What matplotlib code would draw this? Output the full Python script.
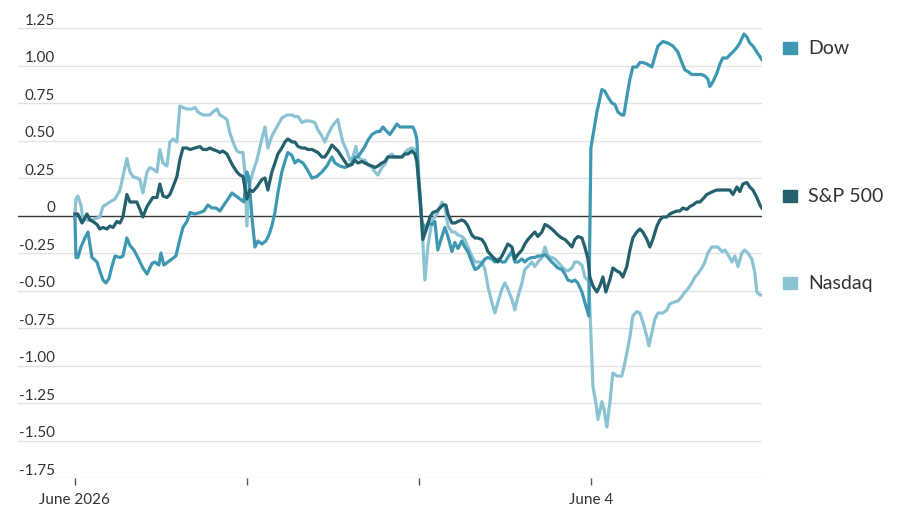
import matplotlib
matplotlib.use("Agg")
import matplotlib.pyplot as plt
from matplotlib.patches import Rectangle
from matplotlib.transforms import blended_transform_factory

plt.rcParams['font.family'] = ['Lato', 'DejaVu Sans']

# time in trading days from the June 1 open, value in % change
dow_t = [0.000, 0.006, 0.017, 0.035, 0.058, 0.076, 0.099, 0.128, 0.145, 0.163, 0.180, 0.198, 0.215, 0.233,
         0.262, 0.279, 0.302, 0.320, 0.343, 0.366, 0.395, 0.419, 0.448, 0.465, 0.488, 0.500, 0.517, 0.541,
         0.564, 0.587, 0.610, 0.628, 0.651, 0.669, 0.698, 0.727, 0.750, 0.773, 0.797, 0.820, 0.843, 0.866,
         0.890, 0.913, 0.936, 0.959, 0.983,
         1.000, 1.012, 1.029, 1.047, 1.064, 1.087, 1.110, 1.128, 1.145, 1.163, 1.180, 1.203, 1.221, 1.238,
         1.262, 1.279, 1.297, 1.326, 1.349, 1.378, 1.407, 1.436, 1.465, 1.494, 1.512, 1.541, 1.570, 1.587,
         1.610, 1.628, 1.645, 1.669, 1.686, 1.703, 1.727, 1.756, 1.773, 1.791, 1.814, 1.831, 1.849, 1.872,
         1.890, 1.913, 1.936, 1.965, 1.977, 1.988,
         2.000, 2.017, 2.035, 2.052, 2.076, 2.093, 2.110, 2.134, 2.151, 2.169, 2.192, 2.209, 2.227, 2.250,
         2.267, 2.285, 2.308, 2.326, 2.343, 2.366, 2.384, 2.401, 2.424, 2.442, 2.459, 2.483, 2.500, 2.517,
         2.541, 2.558, 2.576, 2.599, 2.616, 2.634, 2.657, 2.674, 2.692, 2.715, 2.733, 2.750, 2.773, 2.791,
         2.808, 2.831, 2.849, 2.866, 2.890, 2.907, 2.924, 2.948, 2.965, 2.983, 2.988,
         3.000, 3.035, 3.064, 3.081, 3.099, 3.122, 3.140, 3.157, 3.180, 3.192, 3.209, 3.227, 3.244, 3.267,
         3.285, 3.302, 3.326, 3.355, 3.372, 3.390, 3.419, 3.448, 3.477, 3.506, 3.529, 3.547, 3.564, 3.587,
         3.616, 3.645, 3.663, 3.680, 3.692, 3.709, 3.733, 3.750, 3.767, 3.791, 3.808, 3.826, 3.849, 3.866,
         3.890, 3.907, 3.924, 3.942, 3.965, 3.994]
dow = [0.00, -0.28, -0.28, -0.21, -0.15, -0.11, -0.28, -0.31, -0.37, -0.43, -0.45, -0.42, -0.34, -0.27,
       -0.28, -0.27, -0.15, -0.20, -0.23, -0.28, -0.35, -0.39, -0.32, -0.31, -0.33, -0.25, -0.33, -0.31,
       -0.29, -0.27, -0.16, -0.08, -0.04, 0.02, 0.01, 0.02, 0.03, 0.07, 0.05, 0.05, 0.03, 0.07,
       0.11, 0.15, 0.13, 0.11, 0.09,
       0.29, 0.25, -0.01, -0.21, -0.17, -0.19, -0.17, -0.13, -0.07, 0.02, 0.15, 0.29, 0.36, 0.42,
       0.40, 0.35, 0.37, 0.35, 0.31, 0.25, 0.26, 0.29, 0.33, 0.39, 0.35, 0.33, 0.32, 0.33,
       0.35, 0.39, 0.39, 0.43, 0.46, 0.50, 0.54, 0.56, 0.56, 0.59, 0.56, 0.54, 0.57, 0.61,
       0.59, 0.59, 0.59, 0.59, 0.56, 0.51,
       0.24, -0.04, -0.09, -0.05, -0.06, -0.04, -0.23, -0.14, -0.08, -0.14, -0.24, -0.18, -0.22, -0.17,
       -0.21, -0.24, -0.31, -0.36, -0.35, -0.32, -0.29, -0.28, -0.29, -0.31, -0.29, -0.31, -0.31, -0.28,
       -0.24, -0.31, -0.31, -0.29, -0.31, -0.29, -0.28, -0.28, -0.27, -0.27, -0.26, -0.28, -0.31, -0.33,
       -0.35, -0.36, -0.39, -0.43, -0.44, -0.43, -0.45, -0.51, -0.58, -0.65, -0.67,
       0.45, 0.69, 0.84, 0.83, 0.79, 0.75, 0.74, 0.69, 0.67, 0.67, 0.79, 0.91, 0.99, 0.99,
       1.02, 1.02, 1.01, 0.99, 1.06, 1.13, 1.16, 1.15, 1.13, 1.09, 1.02, 0.97, 0.96, 0.94,
       0.94, 0.94, 0.93, 0.91, 0.86, 0.89, 0.95, 1.01, 1.05, 1.05, 1.07, 1.09, 1.12, 1.15,
       1.21, 1.19, 1.15, 1.13, 1.09, 1.04]

sp_t = [0.000, 0.017, 0.041, 0.070, 0.087, 0.105, 0.128, 0.145, 0.163, 0.186, 0.203, 0.221, 0.244, 0.262,
        0.279, 0.302, 0.320, 0.337, 0.360, 0.378, 0.395, 0.419, 0.436, 0.453, 0.477, 0.494, 0.512, 0.535,
        0.552, 0.570, 0.593, 0.610, 0.628, 0.651, 0.669, 0.698, 0.727, 0.744, 0.767, 0.785, 0.802, 0.826,
        0.843, 0.860, 0.884, 0.901, 0.919, 0.942, 0.959, 0.977,
        1.000, 1.017, 1.035, 1.058, 1.087, 1.105, 1.122, 1.145, 1.163, 1.180, 1.203, 1.221, 1.238, 1.262,
        1.279, 1.297, 1.320, 1.337, 1.355, 1.378, 1.395, 1.413, 1.436, 1.453, 1.471, 1.494, 1.512, 1.529,
        1.552, 1.570, 1.587, 1.610, 1.628, 1.645, 1.669, 1.686, 1.703, 1.727, 1.744, 1.762, 1.785, 1.802,
        1.820, 1.843, 1.860, 1.878, 1.901, 1.919, 1.936, 1.959, 1.977, 1.988,
        2.006, 2.023, 2.047, 2.064, 2.081, 2.105, 2.122, 2.140, 2.157, 2.169, 2.192, 2.209, 2.227, 2.250,
        2.267, 2.285, 2.308, 2.326, 2.343, 2.366, 2.384, 2.401, 2.424, 2.442, 2.459, 2.483, 2.500, 2.517,
        2.541, 2.558, 2.576, 2.599, 2.616, 2.634, 2.657, 2.674, 2.692, 2.715, 2.733, 2.750, 2.773, 2.791,
        2.808, 2.831, 2.849, 2.866, 2.890, 2.907, 2.924, 2.948, 2.965, 2.983,
        2.994, 3.012, 3.035, 3.052, 3.070, 3.087, 3.110, 3.128, 3.151, 3.169, 3.186, 3.209, 3.227, 3.244,
        3.267, 3.285, 3.302, 3.326, 3.343, 3.360, 3.384, 3.401, 3.419, 3.442, 3.459, 3.477, 3.500, 3.517,
        3.535, 3.558, 3.576, 3.593, 3.616, 3.634, 3.651, 3.674, 3.692, 3.709, 3.733, 3.750, 3.767, 3.791,
        3.808, 3.826, 3.849, 3.866, 3.884, 3.907, 3.924, 3.942, 3.965, 3.983, 3.994]
sp500 = [0.01, 0.01, -0.05, 0.01, -0.03, -0.04, -0.06, -0.09, -0.08, -0.09, -0.07, -0.08, -0.04, -0.05,
         -0.01, 0.14, 0.09, 0.09, 0.09, 0.04, -0.01, 0.06, 0.09, 0.12, 0.12, 0.21, 0.13, 0.12,
         0.14, 0.19, 0.26, 0.37, 0.45, 0.45, 0.44, 0.45, 0.46, 0.44, 0.44, 0.45, 0.44, 0.43,
         0.42, 0.43, 0.41, 0.37, 0.33, 0.29, 0.27, 0.26,
         0.11, 0.17, 0.16, 0.19, 0.24, 0.25, 0.17, 0.29, 0.35, 0.41, 0.45, 0.49, 0.51, 0.49,
         0.49, 0.46, 0.45, 0.45, 0.44, 0.44, 0.43, 0.42, 0.39, 0.39, 0.42, 0.47, 0.45, 0.43,
         0.39, 0.36, 0.33, 0.34, 0.37, 0.35, 0.36, 0.35, 0.34, 0.33, 0.32, 0.33, 0.35, 0.36,
         0.39, 0.39, 0.39, 0.39, 0.39, 0.41, 0.41, 0.43, 0.41, 0.36,
         0.13, -0.16, -0.08, -0.01, 0.02, 0.03, 0.05, 0.07, 0.07, 0.01, -0.05, -0.05, -0.04, -0.03,
         -0.04, -0.07, -0.13, -0.15, -0.15, -0.16, -0.19, -0.24, -0.27, -0.29, -0.31, -0.27, -0.23, -0.19,
         -0.21, -0.29, -0.26, -0.23, -0.19, -0.16, -0.13, -0.11, -0.14, -0.11, -0.06, -0.07, -0.09, -0.11,
         -0.13, -0.15, -0.16, -0.18, -0.21, -0.16, -0.14, -0.15, -0.21, -0.29,
         -0.41, -0.47, -0.51, -0.47, -0.41, -0.51, -0.43, -0.35, -0.37, -0.38, -0.41, -0.34, -0.23, -0.15,
         -0.11, -0.09, -0.11, -0.16, -0.21, -0.16, -0.07, -0.03, -0.01, -0.01, 0.01, 0.02, 0.03, 0.03,
         0.05, 0.04, 0.06, 0.07, 0.09, 0.09, 0.11, 0.14, 0.15, 0.16, 0.17, 0.17, 0.17, 0.17,
         0.17, 0.14, 0.19, 0.16, 0.21, 0.22, 0.19, 0.17, 0.12, 0.07, 0.05]

nasdaq_t = [0.000, 0.006, 0.017, 0.035, 0.047, 0.087, 0.122, 0.145, 0.163, 0.203, 0.233, 0.262, 0.279, 0.302,
            0.320, 0.337, 0.360, 0.378, 0.395, 0.419, 0.436, 0.453, 0.477, 0.494, 0.512, 0.535, 0.552, 0.570,
            0.593, 0.610, 0.628, 0.651, 0.680, 0.698, 0.715, 0.744, 0.767, 0.785, 0.802, 0.826, 0.843, 0.860,
            0.884, 0.901, 0.919, 0.942, 0.959, 0.977, 0.988,
            1.000, 1.012, 1.035, 1.058, 1.087, 1.105, 1.122, 1.145, 1.174, 1.203, 1.233, 1.262, 1.279, 1.297,
            1.320, 1.337, 1.366, 1.395, 1.413, 1.436, 1.453, 1.471, 1.494, 1.512, 1.529, 1.541, 1.558, 1.581,
            1.599, 1.616, 1.634, 1.645, 1.669, 1.686, 1.703, 1.727, 1.744, 1.762, 1.785, 1.802, 1.820, 1.843,
            1.860, 1.878, 1.901, 1.919, 1.936, 1.959, 1.977, 1.988,
            2.000, 2.017, 2.035, 2.052, 2.076, 2.093, 2.110, 2.134, 2.151, 2.169, 2.192, 2.209, 2.227, 2.250,
            2.267, 2.285, 2.308, 2.326, 2.343, 2.366, 2.384, 2.401, 2.424, 2.442, 2.459, 2.483, 2.500, 2.517,
            2.541, 2.558, 2.576, 2.599, 2.616, 2.634, 2.657, 2.674, 2.692, 2.715, 2.733, 2.750, 2.773, 2.791,
            2.808, 2.831, 2.849, 2.866, 2.890, 2.907, 2.924, 2.948, 2.965, 2.988,
            3.012, 3.029, 3.041, 3.064, 3.076, 3.093, 3.110, 3.128, 3.151, 3.180, 3.198, 3.227, 3.244, 3.267,
            3.285, 3.302, 3.326, 3.337, 3.355, 3.372, 3.390, 3.419, 3.442, 3.459, 3.477, 3.506, 3.529, 3.547,
            3.564, 3.587, 3.605, 3.622, 3.645, 3.663, 3.680, 3.703, 3.721, 3.738, 3.762, 3.779, 3.797, 3.820,
            3.837, 3.855, 3.878, 3.895, 3.913, 3.936, 3.953, 3.965, 3.983, 3.994]
nasdaq = [0.01, 0.11, 0.13, 0.07, -0.03, -0.03, -0.02, -0.01, 0.06, 0.09, 0.11, 0.17, 0.26, 0.38,
          0.29, 0.26, 0.25, 0.24, 0.15, 0.29, 0.32, 0.31, 0.29, 0.44, 0.35, 0.33, 0.49, 0.51,
          0.49, 0.73, 0.72, 0.71, 0.71, 0.72, 0.69, 0.67, 0.67, 0.67, 0.69, 0.71, 0.67, 0.66,
          0.64, 0.55, 0.49, 0.43, 0.42, 0.42, 0.29,
          -0.07, 0.19, 0.29, 0.37, 0.51, 0.59, 0.45, 0.53, 0.59, 0.65, 0.67, 0.67, 0.66, 0.66,
          0.62, 0.63, 0.63, 0.62, 0.57, 0.53, 0.49, 0.54, 0.59, 0.62, 0.64, 0.57, 0.49, 0.43,
          0.37, 0.39, 0.46, 0.39, 0.37, 0.37, 0.34, 0.32, 0.29, 0.27, 0.32, 0.34, 0.39, 0.41,
          0.39, 0.39, 0.39, 0.42, 0.44, 0.45, 0.44, 0.39,
          0.17, -0.05, -0.43, -0.21, -0.03, -0.01, 0.02, 0.09, 0.06, -0.07, -0.11, -0.11, -0.13, -0.14,
          -0.16, -0.21, -0.27, -0.31, -0.31, -0.31, -0.36, -0.47, -0.58, -0.65, -0.58, -0.49, -0.45, -0.49,
          -0.56, -0.63, -0.54, -0.45, -0.36, -0.34, -0.31, -0.34, -0.31, -0.28, -0.21, -0.27, -0.28, -0.29,
          -0.31, -0.34, -0.36, -0.37, -0.35, -0.31, -0.31, -0.33, -0.41, -0.44,
          -1.14, -1.25, -1.36, -1.24, -1.29, -1.41, -1.25, -1.05, -1.07, -1.07, -0.98, -0.81, -0.67, -0.64,
          -0.65, -0.71, -0.81, -0.87, -0.78, -0.69, -0.65, -0.65, -0.63, -0.59, -0.58, -0.57, -0.54, -0.51,
          -0.49, -0.45, -0.41, -0.39, -0.35, -0.31, -0.25, -0.21, -0.21, -0.21, -0.24, -0.23, -0.26, -0.31,
          -0.27, -0.34, -0.25, -0.23, -0.25, -0.29, -0.38, -0.51, -0.53, -0.53]

series_names = ['Dow', 'S&P 500', 'Nasdaq']
series_colors = ['#3f98b3', '#24606e', '#8cc3d4']

y_ticks = [1.25, 1.00, 0.75, 0.50, 0.25, 0, -0.25, -0.50, -0.75, -1.00, -1.25, -1.50, -1.75]
x_ticks = [0, 1, 2, 3]
x_tick_labels = ['June 2026', '', '', 'June 4']

text_color = '#333333'

fig = plt.figure(figsize=(9, 5.1), dpi=100)
ax = fig.add_axes([18 / 900, 1 - 479 / 510, 744 / 900, 450 / 510])
ax.set_xlim(-0.331, 3.995)
ax.set_ylim(-1.75, 1.25)

for s in ax.spines.values():
    s.set_visible(False)

# grid lines, zero line in dark
for v in y_ticks:
    if v == 0:
        ax.axhline(v, color='#3a3a3a', lw=1.0, zorder=3)
    else:
        ax.axhline(v, color='#e3e3e3', lw=1.0, zorder=0)

# y labels sit above their grid lines
ytrans = blended_transform_factory(ax.transAxes, ax.transData)
for v in y_ticks:
    lab = '0' if v == 0 else f'{v:.2f}'
    ax.text(37 / 744, v + 0.027, lab, transform=ytrans, ha='right', va='baseline',
            fontsize=11, color=text_color)

ax.set_yticks([])
ax.set_xticks(x_ticks)
ax.set_xticklabels(x_tick_labels, fontsize=11, color=text_color)
ax.tick_params(axis='x', length=5, width=1, color='#555555', pad=5)

lines = [(dow_t, dow), (sp_t, sp500), (nasdaq_t, nasdaq)]
# Nasdaq underneath, then Dow, S&P on top
for idx in [2, 0, 1]:
    t, v = lines[idx]
    ax.plot(t, v, color=series_colors[idx], lw=2.3, solid_joinstyle='round', zorder=4)

# end labels with colour squares, placed a little above each last value
for idx, (t, v) in enumerate(lines):
    yp = ax.transData.transform((0, v[-1] + 0.08))[1]
    fig.patches.append(Rectangle((783 / 900, (yp - 6) / 510), 14 / 900, 12 / 510,
                                 transform=fig.transFigure, color=series_colors[idx]))
    fig.text(808 / 900, yp / 510, series_names[idx], fontsize=14, color=text_color,
             ha='left', va='center')

fig.savefig('out.png', dpi=100, facecolor='white')
